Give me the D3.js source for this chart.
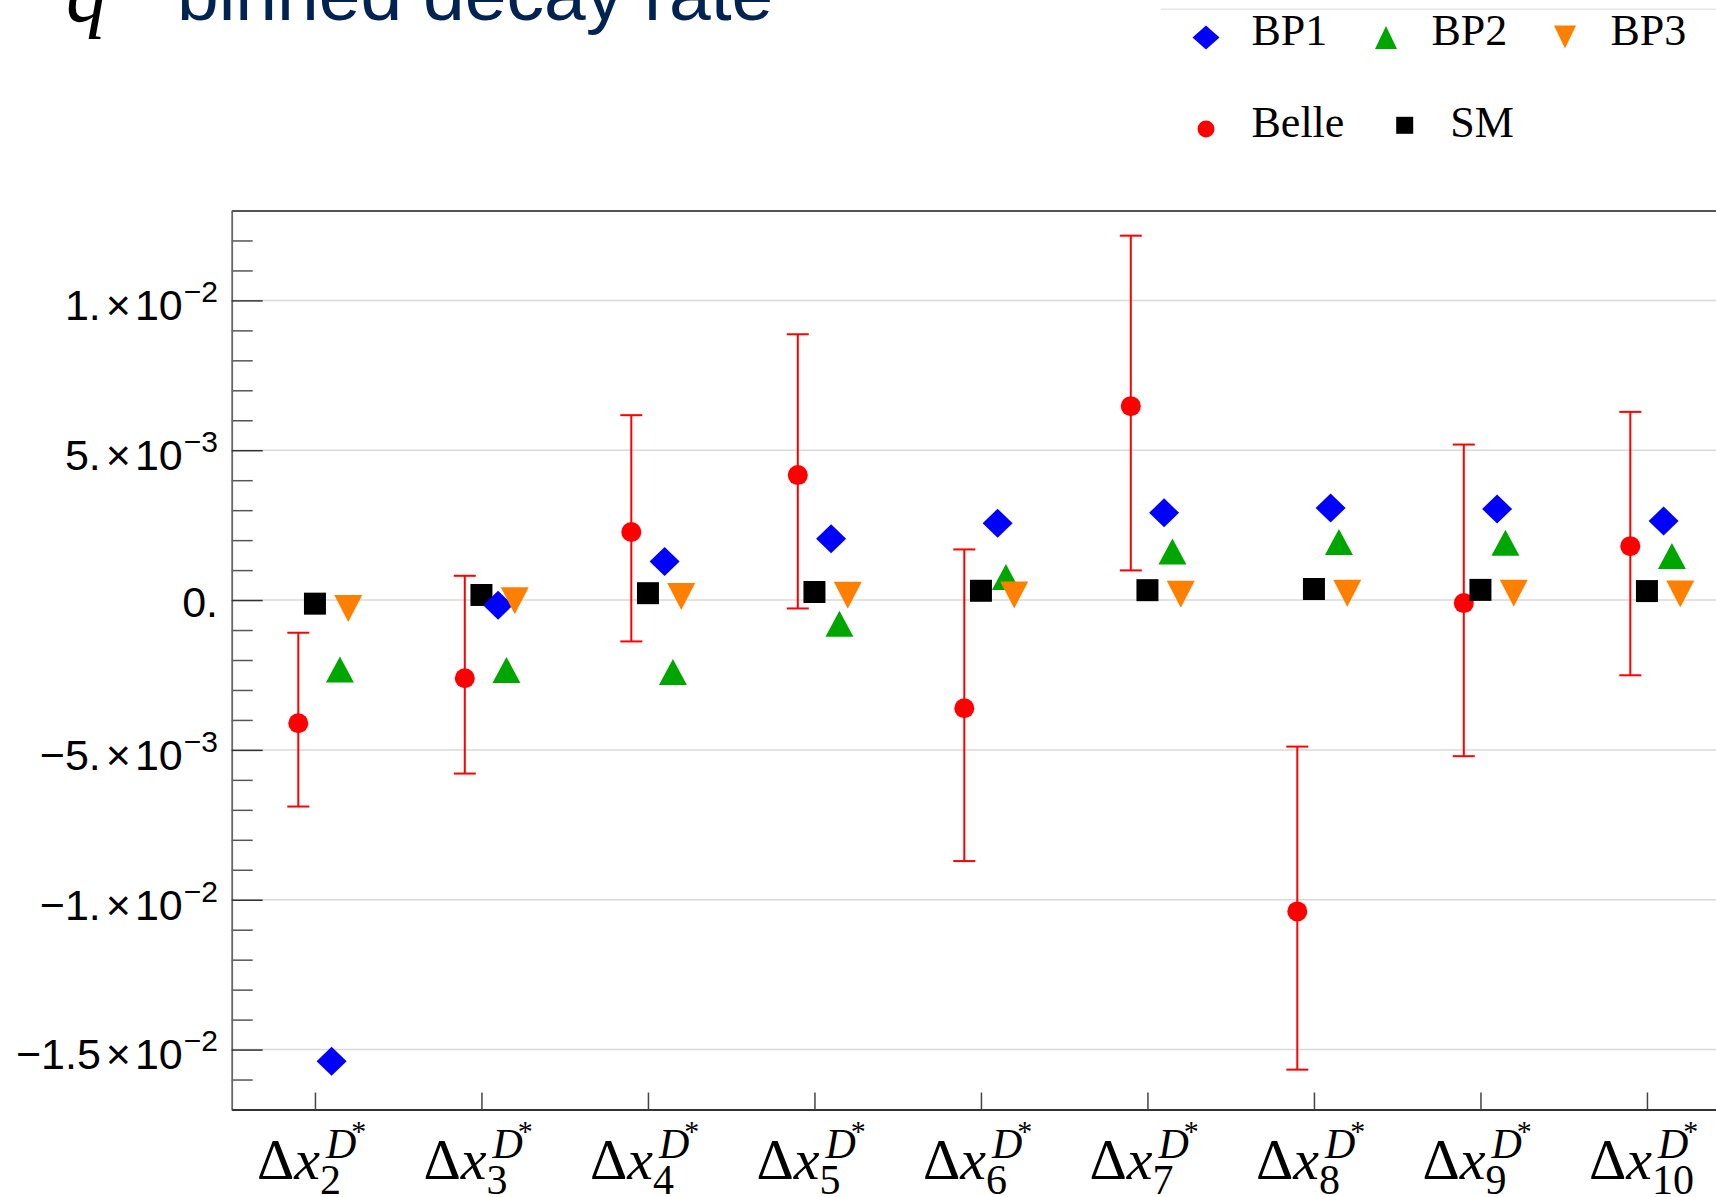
<!DOCTYPE html>
<html>
<head>
<meta charset="utf-8">
<script src="https://cdn.jsdelivr.net/npm/d3@7"></script>
<style>
  body { margin: 0; background: #fff; }
  svg { display: block; }
</style>
</head>
<body>
<svg width="1716" height="1197"></svg>
<script>
// bins on the x axis
const bins = [2, 3, 4, 5, 6, 7, 8, 9, 10];

// Belle measurement with (asymmetric) error bars
const belle     = [-0.00411, -0.00261, 0.00227, 0.00417, -0.00361, 0.00647, -0.01039, -0.00010, 0.00180];
const belleUp   = [0.00302, 0.00342, 0.00390, 0.00470, 0.00530, 0.00569, 0.00550, 0.00529, 0.00448];
const belleDown = [0.00278, 0.00318, 0.00365, 0.00445, 0.00510, 0.00548, 0.00528, 0.00511, 0.00431];

// predictions
const sm  = [-0.00012, 0.00017, 0.00023, 0.00027, 0.00031, 0.00033, 0.00037, 0.00034, 0.00030];
const bp1 = [-0.01539, -0.00017, 0.00129, 0.00205, 0.00256, 0.00291, 0.00307, 0.00304, 0.00264];
const bp2 = [-0.00232, -0.00233, -0.00240, -0.00079, 0.00077, 0.00162, 0.00194, 0.00191, 0.00147];
const bp3 = [-0.00028, -0.00002, 0.00012, 0.00016, 0.00017, 0.00019, 0.00023, 0.00023, 0.00020];

// y ticks: mantissa + exponent
const yMajor = [-0.015, -0.01, -0.005, 0, 0.005, 0.01];
const yMantissa = ["\u22121.5", "\u22121.", "\u22125.", "0.", "5.", "1."];
const yExponent = ["\u22122", "\u22122", "\u22123", null, "\u22123", "\u22122"];
const yMinor = d3.range(-17, 14).map(d => d / 1000);

const svg = d3.select("svg");
const serif = "'Liberation Serif', 'Times New Roman', serif";
const sans = "'Liberation Sans', Arial, Helvetica, sans-serif";

var x = d3.scaleLinear().domain([1.5, 10.5]).range([231.7, 1730.2]);
var y = d3.scaleLinear().domain([-0.017, 0.013]).range([1109.5, 210.5]);

// title (cut off at the top like the original)
var title = svg.append("g");
title.append("text")
    .attr("x", 66).attr("y", 21)
    .attr("font-family", serif).attr("font-style", "italic")
    .attr("font-size", 82).attr("fill", "#000")
    .text("q")
    .append("tspan").attr("font-style", "normal").attr("font-size", 55).attr("dy", -40).text("2");
title.append("text")
    .attr("x", 177).attr("y", 19.5)
    .attr("font-family", sans).attr("font-size", 75)
    .attr("fill", "#002352")
    .text("binned decay rate");

// gridlines
svg.append("g").selectAll("line")
    .data(yMajor)
    .enter().append("line")
    .attr("x1", x.range()[0]).attr("x2", x.range()[1])
    .attr("y1", d => y(d)).attr("y2", d => y(d))
    .attr("stroke", "#d9d9d9").attr("stroke-width", 1.5);

// minor y ticks
var yMinorAxis = d3.axisLeft(y).tickValues(yMinor.filter(v => yMajor.every(m => Math.abs(m - v) > 1e-9)))
    .tickSize(-21).tickSizeOuter(0).tickFormat("");
var gMinor = svg.append("g").attr("transform", "translate(" + x.range()[0] + ",0)").call(yMinorAxis);
gMinor.select(".domain").remove();
gMinor.selectAll("line").attr("stroke", "#555").attr("stroke-width", 1.5);

// major y ticks and labels
var yAxis = d3.axisLeft(y).tickValues(yMajor).tickSize(-31).tickSizeOuter(0).tickPadding(13.7)
    .tickFormat("");
var gy = svg.append("g").attr("transform", "translate(" + x.range()[0] + ",0)").call(yAxis);
gy.select(".domain").attr("stroke", "#666").attr("stroke-width", 1.8);
gy.selectAll(".tick line").attr("stroke", "#333").attr("stroke-width", 1.5);
gy.selectAll(".tick text").each(function(d, i) {
    var t = d3.select(this)
        .attr("font-family", sans).attr("font-size", 43).attr("fill", "#000")
        .attr("text-anchor", "end").attr("dy", null);
    t.text(null);
    var k = yMajor.indexOf(d);
    t.append("tspan").text(yMantissa[k]);
    if (yExponent[k]) {
        t.attr("y", 19.3);
        t.append("tspan").attr("dx", 5).text("\u00d7");
        t.append("tspan").attr("dx", 4).text("10");
        t.append("tspan").attr("font-size", 30).attr("dx", 1).attr("dy", -18).text(yExponent[k]);
    } else {
        t.attr("y", 16.5);
    }
});

// x axis (bottom) with ticks pointing up
var xAxis = d3.axisBottom(x).tickValues(bins).tickSize(-17).tickSizeOuter(0).tickFormat("");
var gx = svg.append("g").attr("transform", "translate(0," + y.range()[0] + ")").call(xAxis);
gx.select(".domain").attr("stroke", "#333").attr("stroke-width", 1.8);
gx.selectAll(".tick line").attr("stroke", "#444").attr("stroke-width", 1.5);
gx.selectAll(".tick text").remove();

// top frame
var gt = svg.append("g").attr("transform", "translate(0," + y.range()[1] + ")")
    .call(d3.axisTop(x).tickValues([]).tickSizeOuter(0));
gt.select(".domain").attr("stroke", "#555").attr("stroke-width", 1.8);

// x labels: Δx_n^{D*}
var xl = svg.append("g").selectAll("text")
    .data(bins)
    .enter().append("text")
    .attr("x", d => x(d) - 58)
    .attr("y", 1179.3)
    .attr("font-family", serif).attr("font-size", 58).attr("fill", "#000");
xl.append("tspan").text("\u0394");
xl.append("tspan").attr("font-style", "italic").text("x");
xl.append("tspan").attr("font-size", 42).attr("dy", 15).text(d => d);
xl.append("tspan").attr("font-size", 42).attr("font-style", "italic")
    .attr("x", d => x(d) + 11).attr("dy", -36).text("D");
xl.append("tspan").attr("font-size", 30).attr("dx", -5).attr("dy", -17).text("*");

// marker shapes
function shapePath(type, w, h) {
    if (type === "diamond") return "M0," + (-h / 2) + "L" + (w / 2) + ",0L0," + (h / 2) + "L" + (-w / 2) + ",0Z";
    if (type === "up") return "M0," + (-h / 2) + "L" + (w / 2) + "," + (h / 2) + "L" + (-w / 2) + "," + (h / 2) + "Z";
    if (type === "down") return "M0," + (h / 2) + "L" + (w / 2) + "," + (-h / 2) + "L" + (-w / 2) + "," + (-h / 2) + "Z";
    return "M" + (-w / 2) + "," + (-h / 2) + "h" + w + "v" + h + "h" + (-w) + "Z";
}

var series = [
    {name: "Belle", values: belle, off: -0.1, shape: "circle", color: "#ff0000", w: 20, h: 20},
    {name: "SM", values: sm, off: 0, shape: "square", color: "#000000", w: 22, h: 22},
    {name: "BP1", values: bp1, off: 0.1, shape: "diamond", color: "#0000ff", w: 30, h: 29},
    {name: "BP2", values: bp2, off: 0.15, shape: "up", color: "#00a600", w: 28, h: 26},
    {name: "BP3", values: bp3, off: 0.2, shape: "down", color: "#ff8000", w: 28, h: 27}
];

// Belle error bars
var eb = svg.append("g").selectAll("g")
    .data(bins)
    .enter().append("g")
    .attr("stroke", "#ff0000").attr("stroke-width", 2);
eb.append("line")
    .attr("x1", d => x(d - 0.1)).attr("x2", d => x(d - 0.1))
    .attr("y1", (d, i) => y(belle[i] + belleUp[i]))
    .attr("y2", (d, i) => y(belle[i] - belleDown[i]));
eb.append("line")
    .attr("x1", d => x(d - 0.1) - 11).attr("x2", d => x(d - 0.1) + 11)
    .attr("y1", (d, i) => y(belle[i] + belleUp[i]))
    .attr("y2", (d, i) => y(belle[i] + belleUp[i]));
eb.append("line")
    .attr("x1", d => x(d - 0.1) - 11).attr("x2", d => x(d - 0.1) + 11)
    .attr("y1", (d, i) => y(belle[i] - belleDown[i]))
    .attr("y2", (d, i) => y(belle[i] - belleDown[i]));

// points
series.forEach(function(s) {
    var g = svg.append("g").attr("fill", s.color);
    var pts = g.selectAll(".pt")
        .data(s.values)
        .enter();
    if (s.shape === "circle") {
        pts.append("circle")
            .attr("cx", (d, i) => x(bins[i] + s.off))
            .attr("cy", d => y(d))
            .attr("r", s.w / 2);
    } else {
        pts.append("path")
            .attr("d", shapePath(s.shape, s.w, s.h))
            .attr("transform", (d, i) => "translate(" + x(bins[i] + s.off) + "," + y(d) + ")");
    }
});

// legend
var legendItems = [
    {name: "BP1", shape: "diamond", color: "#0000ff", cx: 1206, cy: 37.5, w: 27, h: 24, ty: 45},
    {name: "BP2", shape: "up", color: "#00a600", cx: 1386, cy: 37.5, w: 22, h: 23, ty: 45},
    {name: "BP3", shape: "down", color: "#ff8000", cx: 1565, cy: 37, w: 22, h: 23, ty: 45},
    {name: "Belle", shape: "circle", color: "#ff0000", cx: 1206, cy: 129, w: 17, h: 17, ty: 136.7},
    {name: "SM", shape: "square", color: "#000000", cx: 1404.7, cy: 125.3, w: 17, h: 17, ty: 136.7}
];
var lg = svg.append("g");
lg.append("line").attr("x1", 1161).attr("x2", 1716).attr("y1", 9.3).attr("y2", 9.3)
    .attr("stroke", "#e8e8e8").attr("stroke-width", 1.5);
var li = lg.selectAll(".item").data(legendItems).enter().append("g");
li.filter(d => d.shape === "circle").append("circle")
    .attr("cx", d => d.cx).attr("cy", d => d.cy).attr("r", d => d.w / 2).attr("fill", d => d.color);
li.filter(d => d.shape !== "circle").append("path")
    .attr("d", d => shapePath(d.shape, d.w, d.h))
    .attr("transform", d => "translate(" + d.cx + "," + d.cy + ")")
    .attr("fill", d => d.color);
li.append("text")
    .attr("x", d => d.cx + 45.5)
    .attr("y", d => d.ty)
    .attr("font-family", serif).attr("font-size", 44).attr("fill", "#000")
    .text(d => d.name);
</script>
</body>
</html>
